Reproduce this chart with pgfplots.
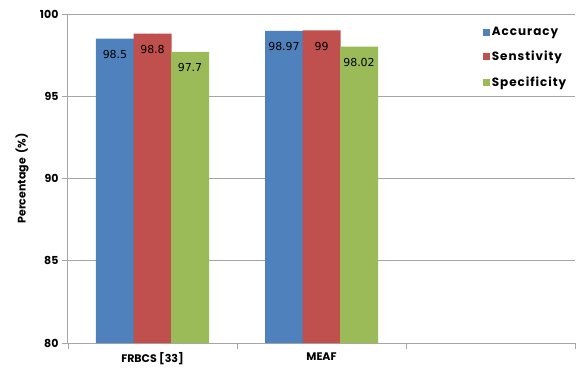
\documentclass[border=0pt]{standalone}
\usepackage{fontspec}
\setmainfont{Poppins}
\newfontfamily\valfont{DejaVu Sans}
\newfontfamily\legfont[LetterSpace=8]{Poppins}
\usepackage{pgfplots}
\pgfplotsset{compat=1.18}
\definecolor{accblue}{HTML}{4F81BD}
\definecolor{senred}{HTML}{C0504D}
\definecolor{spegreen}{HTML}{9BBB59}
\definecolor{axisgray}{HTML}{A6A6A6}

\begin{document}
\begin{tikzpicture}
\useasboundingbox (-68pt,-29pt) rectangle (509pt,343pt);
\begin{axis}[
  scale only axis, width=507pt, height=329pt,
  ybar=-0.5pt, bar width=38pt,
  legend image code/.code={\fill[#1] (0pt,-3.5pt) rectangle (7pt,3.5pt);},
  xmin=-0.5, xmax=2.5, ymin=80, ymax=100,
  xtick={0,1}, xticklabels={FRBCS [33], MEAF},
  minor xtick={-0.5,0.5,1.5,2.5},
  ytick={80,85,...,100},
  axis x line*=bottom, axis y line*=left,
  axis line style={axisgray, line width=1pt, -},
  tick align=outside,
  major tick length=6pt, minor tick length=6pt,
  tick style={axisgray, line width=0.8pt},
  major x tick style={draw=none},
  ymajorgrids, grid style={axisgray, line width=0.8pt},
  /pgf/number format/assume math mode=true,
  tick label style={font=\bfseries\fontsize{11}{13}\selectfont},
  ylabel={Percentage\ \ (\%)},
  ylabel style={font=\bfseries\fontsize{11}{13}\selectfont, at={(axis description cs:-0.0907,0.5)}, anchor=center},
  nodes near coords,
  every node near coord/.append style={font=\valfont\fontsize{11}{13}\selectfont, anchor=center, yshift=-16pt, black},
  legend style={at={(0.812,0.972)}, anchor=north west, draw=none, fill=none,
    font=\legfont\bfseries\fontsize{12}{14}\selectfont, row sep=10pt},
  legend cell align=left,
]
\addplot[fill=accblue, draw=none] coordinates {(0,98.5) (1,98.97)};
\addplot[fill=senred, draw=none] coordinates {(0,98.8) (1,99)};
\addplot[fill=spegreen, draw=none] coordinates {(0,97.7) (1,98.02)};
\legend{Accuracy, Senstivity, Specificity}
\end{axis}
\end{tikzpicture}
\end{document}
